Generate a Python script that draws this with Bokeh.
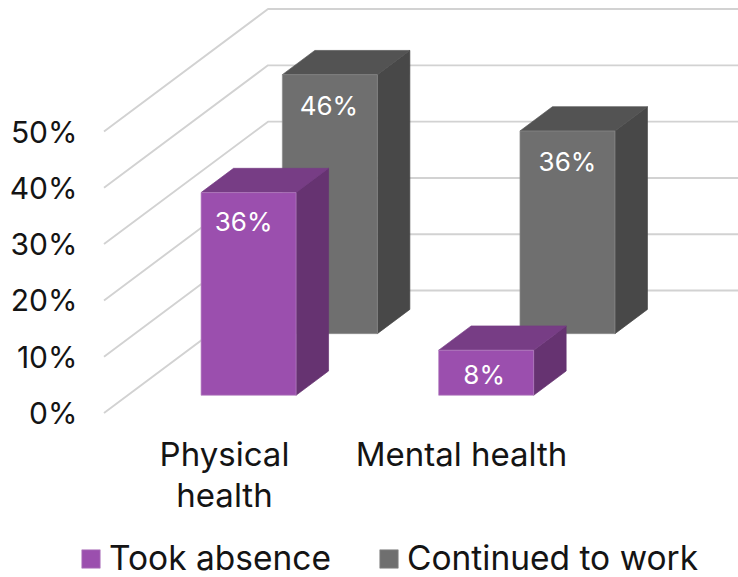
from bokeh.core.properties import value
from bokeh.embed import file_html
from bokeh.models import FixedTicker, Legend, LegendItem, Range1d
from bokeh.plotting import figure
from bokeh.resources import INLINE

# Chart data
categories = ["Physical\nhealth", "Mental health"]
took_absence = [36, 8]
continued_to_work = [46, 36]
percent_ticks = [0, 10, 20, 30, 40, 50]
series_names = ["Took absence", "Continued to work"]

FONT = "Inter"
INK = "#141414"

# Oblique projection of the 3D scene: depth runs from 0 (front) to 1 (back wall)
PX_PER_PCT = 5.63
ZERO_Y = 412.5
DEPTH_DX = 164.0
DEPTH_DV = 21.75
BAR_W = 95.0
BAR_DEPTH = 0.198
CAT_X = [176.8, 414.4]
CAT_LABEL_X = [224, 461]
DEPTH_FRONT = {"absence": 0.145, "work": 0.648}
LABEL_DX = [[-5, -2], [-1, 0]]
LABEL_DROP = [[5.2, 4.4], [5.5, 5.5]]


def proj(x, v, d):
    return x + d * DEPTH_DX, v + d * DEPTH_DV


def box_faces(x0, h, d0):
    x1 = x0 + BAR_W
    d1 = d0 + BAR_DEPTH
    corners = {
        "front": [(x0, 0, d0), (x1, 0, d0), (x1, h, d0), (x0, h, d0)],
        "top": [(x0, h, d0), (x1, h, d0), (x1, h, d1), (x0, h, d1)],
        "side": [(x1, 0, d0), (x1, 0, d1), (x1, h, d1), (x1, h, d0)],
    }
    out = {}
    for name, pts in corners.items():
        xy = [proj(*p) for p in pts]
        out[name] = ([a for a, _ in xy], [b for _, b in xy])
    return out


p = figure(
    width=738,
    height=577,
    output_backend="svg",
    toolbar_location=None,
    x_axis_location=None,
    x_range=Range1d(80, 738),
    y_range=Range1d(-(577 - ZERO_Y) / PX_PER_PCT, ZERO_Y / PX_PER_PCT),
    min_border_left=80,
    min_border_right=0,
    min_border_top=0,
    min_border_bottom=0,
    outline_line_color=None,
    background_fill_color="white",
)
p.grid.visible = False

axis = p.yaxis[0]
axis.ticker = FixedTicker(ticks=percent_ticks)
axis.major_label_overrides = {t: f"{t}%" for t in percent_ticks}
axis.axis_line_color = None
axis.major_tick_line_color = None
axis.major_tick_out = 0
axis.major_tick_in = 0
axis.minor_tick_line_color = None
axis.major_label_standoff = 3
axis.major_label_text_font = FONT
axis.major_label_text_font_size = "30px"
axis.major_label_text_color = INK

# Floor and wall rules: a diagonal up the side, then across the back wall
grid_x, grid_y = [], []
for t in percent_ticks:
    bx, bv = proj(103.5, t, 1)
    grid_x.append([103.5, bx, 738])
    grid_y.append([t, bv, bv])
p.multi_line(grid_x, grid_y, line_color="#d2d2d2", line_width=1.9)

palette = {
    "absence": {"front": "#9b4fae", "top": "#773d85", "side": "#663371", "edge": "#b583c2"},
    "work": {"front": "#6f6f6f", "top": "#535353", "side": "#484848", "edge": "#8c8c8c"},
}
x_offsets = {"absence": 0.0, "work": -1.2}
front_faces = {}
for key, vals in (("work", continued_to_work), ("absence", took_absence)):
    faces = [box_faces(cx + x_offsets[key], v, DEPTH_FRONT[key]) for cx, v in zip(CAT_X, vals)]
    for face in ("side", "top", "front"):
        r = p.patches(
            [f[face][0] for f in faces],
            [f[face][1] for f in faces],
            fill_color=palette[key][face],
            line_color=palette[key]["edge"] if face == "front" else palette[key][face],
            line_width=0.7,
        )
        if face == "front":
            front_faces[key] = r

# Value labels on the front face of each bar
for s, (key, vals) in enumerate((("absence", took_absence), ("work", continued_to_work))):
    for c, v in enumerate(vals):
        x, top = proj(CAT_X[c] + x_offsets[key] + BAR_W / 2 + LABEL_DX[s][c], v, DEPTH_FRONT[key])
        p.text(
            [x],
            [top - LABEL_DROP[s][c]],
            text=[f"{v}%"],
            text_color="white",
            text_font=value(FONT),
            text_font_size="26px",
            text_align="center",
            text_baseline="middle",
        )

# Category labels under the floor
for x, name in zip(CAT_LABEL_X, categories):
    p.text(
        [x],
        [(ZERO_Y - 433) / PX_PER_PCT],
        text=[name],
        text_color=INK,
        text_font=value(FONT),
        text_font_size="33px",
        text_align="center",
        text_baseline="top",
        text_line_height=1.03,
    )

legend = Legend(
    items=[
        LegendItem(label=series_names[0], renderers=[front_faces["absence"]]),
        LegendItem(label=series_names[1], renderers=[front_faces["work"]]),
    ],
    orientation="horizontal",
    location=(-1, -1),
    margin=0,
    padding=0,
    spacing=46,
    border_line_color=None,
    background_fill_alpha=0,
    glyph_width=23,
    glyph_height=23,
    label_standoff=7,
    label_text_font=FONT,
    label_text_font_size="33.5px",
    label_text_color=INK,
    label_height=30,
)
p.add_layout(legend, "center")

open("out.html", "w").write(file_html(p, INLINE))
